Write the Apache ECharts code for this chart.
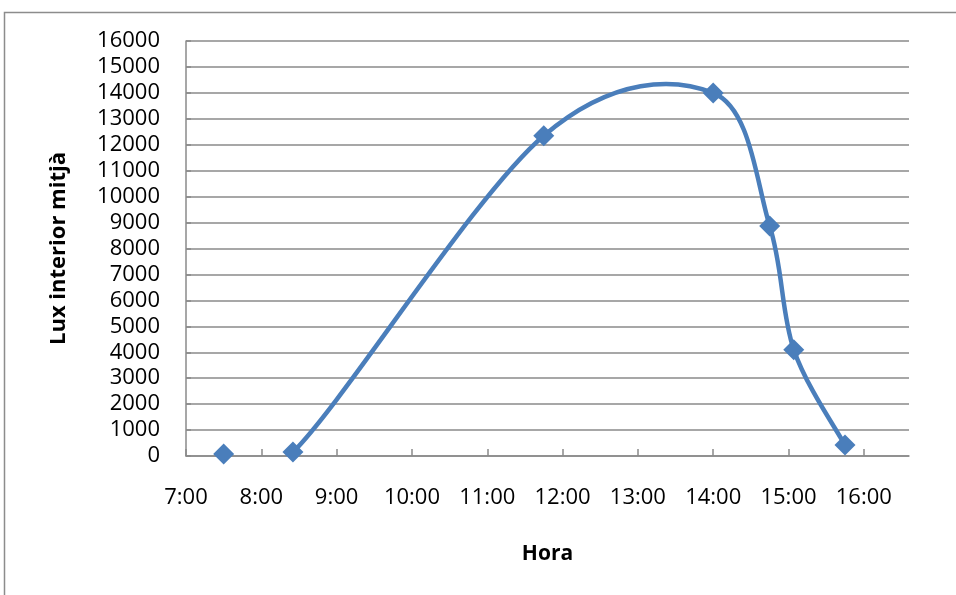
<!DOCTYPE html>
<html>
<head>
<meta charset="utf-8">
<script src="https://cdn.jsdelivr.net/npm/echarts@6/dist/echarts.min.js"></script>
<style>
  html, body { margin: 0; padding: 0; background: #fff; }
  #chart { width: 956px; height: 595px; }
</style>
</head>
<body>
<div id="chart"></div>
<script>
// Hours of the day (decimal) and mean interior illuminance in lux
const hours = [7.5, 8.42, 11.75, 14.0, 14.75, 15.07, 15.75];
const luxValues = [80, 150, 12350, 14000, 8870, 4100, 420];

const xTitle = 'Hora';
const yTitle = 'Lux interior mitjà';

const textFont = '"Open Sans", "Liberation Sans", sans-serif';
const gridGray = '#8a8a8a';
const lineBlue = '#4a7ebb';

function hourLabel(v) {
  return Math.round(v) + ':00';
}

const points = hours.map((h, i) => [h, luxValues[i]]);

// Cardinal (Catmull-Rom style) spline through the projected points
function splinePath(pts) {
  const n = pts.length;
  if (n < 2) return '';
  let d = 'M' + pts[0][0] + ',' + pts[0][1];
  for (let i = 0; i < n - 1; i++) {
    const p0 = pts[Math.max(i - 1, 0)];
    const p1 = pts[i];
    const p2 = pts[i + 1];
    const p3 = pts[Math.min(i + 2, n - 1)];
    const c1x = p1[0] + (p2[0] - p0[0]) / 6;
    const c1y = p1[1] + (p2[1] - p0[1]) / 6;
    const c2x = p2[0] - (p3[0] - p1[0]) / 6;
    const c2y = p2[1] - (p3[1] - p1[1]) / 6;
    d += ' C' + c1x + ',' + c1y + ' ' + c2x + ',' + c2y + ' ' + p2[0] + ',' + p2[1];
  }
  return d;
}

const chart = echarts.init(document.getElementById('chart'), null, { renderer: 'canvas' });

chart.setOption({
  animation: false,
  backgroundColor: '#ffffff',
  grid: { left: 186, right: 47, top: 41, bottom: 139, containLabel: false },
  graphic: [{
    type: 'rect',
    shape: { x: 4.5, y: 12.5, width: 960, height: 600 },
    style: { fill: 'none', stroke: '#8c8c8c', lineWidth: 1.5 },
    silent: true
  }],
  xAxis: {
    type: 'value',
    min: 7,
    max: 16.6,
    interval: 1,
    name: xTitle,
    nameLocation: 'middle',
    nameGap: 88,
    nameTextStyle: { fontFamily: textFont, fontSize: 21, fontWeight: 'bold', color: '#000' },
    axisLine: { show: true, lineStyle: { color: gridGray, width: 1.5 } },
    axisTick: { show: true, inside: true, length: 7, lineStyle: { color: gridGray, width: 1.5 } },
    axisLabel: {
      margin: 31,
      fontFamily: textFont, fontSize: 22, color: '#000',
      showMaxLabel: false,
      formatter: function (v) { return v > 16.01 ? '' : hourLabel(v); }
    },
    splitLine: { show: false }
  },
  yAxis: {
    type: 'value',
    min: 0,
    max: 16000,
    interval: 1000,
    name: yTitle,
    nameLocation: 'middle',
    nameRotate: 90,
    nameGap: 116,
    nameTextStyle: { fontFamily: textFont, fontSize: 22, fontWeight: 'bold', color: '#000' },
    axisLine: { show: true, lineStyle: { color: gridGray, width: 1.5 } },
    axisTick: { show: true, inside: true, length: 5, lineStyle: { color: gridGray, width: 1.5 } },
    axisLabel: {
      margin: 26, fontFamily: textFont, fontSize: 22, color: '#000',
      formatter: function (v) { return String(v); }
    },
    splitLine: { show: true, lineStyle: { color: gridGray, width: 1.5 } }
  },
  series: [{
    // the smoothed curve, built from the axis projection of every data point
    type: 'custom',
    coordinateSystem: 'cartesian2d',
    clip: true,
    data: [[hours[0], luxValues[0]]],
    renderItem: function (params, api) {
      const projected = points.map(p => api.coord(p));
      const cs = params.coordSys;
      return {
        type: 'path',
        shape: { pathData: splinePath(projected) },
        style: { fill: 'none', stroke: lineBlue, lineWidth: 4.5, lineJoin: 'round' },
        clipPath: { type: 'rect', shape: { x: cs.x, y: cs.y, width: cs.width, height: cs.height } }
      };
    },
    z: 2
  }, {
    type: 'scatter',
    data: points,
    symbol: 'diamond',
    symbolSize: 21,
    itemStyle: { color: lineBlue, opacity: 1 },
    z: 3
  }]
});
</script>
</body>
</html>
